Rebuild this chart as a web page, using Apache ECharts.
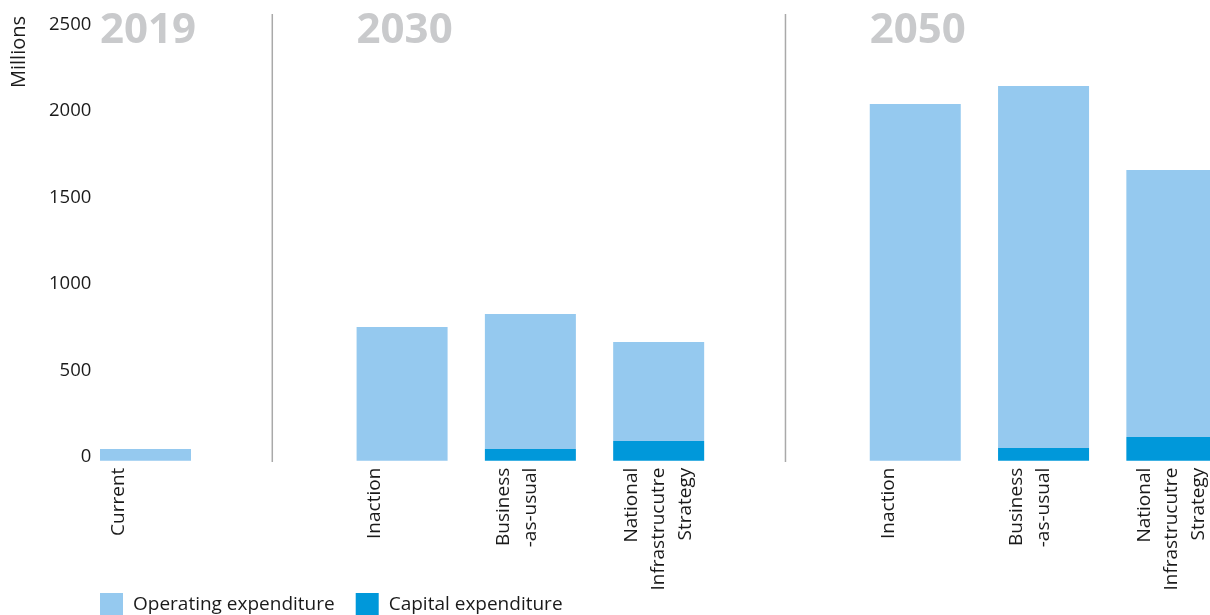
<!DOCTYPE html>
<html><head><meta charset="utf-8">
<script src="https://cdn.jsdelivr.net/npm/echarts@6/dist/echarts.min.js"></script>
<style>html,body{margin:0;padding:0;background:#fff}#c{width:1210px;height:615px}</style>
</head><body><div id="c"></div>
<script>
// ---- data ----
const categoryKeys = ['cur', 'gapA', 'inaction30', 'bau30', 'nis30', 'gapB', 'inaction50', 'bau50', 'nis50'];
const categoryLabels = ['Current\n\n', '', 'Inaction\n\n', 'Business\n-as-usual\n', 'National\nInfrastrucutre\nStrategy', '', 'Inaction\n\n', 'Business\n-as-usual\n', 'National\nInfrastrucutre\nStrategy'];
const operatingExpenditure = [68, null, 772, 779, 572, null, 2061, 2092, 1542];
const capitalExpenditure = [0, null, 0, 68, 114, null, 0, 73, 137];
const yMin = 0, yMax = 2500, yInterval = 500;
const yearLabels = ['2019', '2030', '2050'];
const yearAnchorIndex = [0, 2, 6];
const dividerIndex = [1, 5];
const seriesNames = ['Operating expenditure', 'Capital expenditure'];

const FONT = '"Open Sans", "Noto Sans", sans-serif';
const chart = echarts.init(document.getElementById('c'));
const BAR_W = 91;

chart.setOption({
  animation: false,
  textStyle: { fontFamily: FONT },
  grid: { left: 81.35, right: -26, top: 28, bottom: 154.3, containLabel: false, outerBoundsMode: 'none' },
  legend: {
    data: seriesNames,
    left: 95, top: 588,
    itemWidth: 23, itemHeight: 23, itemGap: 21,
    icon: 'rect',
    textStyle: { fontFamily: FONT, fontSize: 19, color: '#1a1a1a', padding: [0, 0, 0, 5] }
  },
  xAxis: {
    type: 'category',
    data: categoryKeys,
    axisLine: { show: false },
    axisTick: { show: false },
    axisLabel: {
      interval: 0, rotate: 90, margin: 7,
      fontFamily: FONT, fontSize: 19, color: '#1a1a1a', lineHeight: 27,
      formatter: (v, i) => categoryLabels[i]
    }
  },
  yAxis: {
    type: 'value', min: yMin, max: yMax, interval: yInterval,
    axisLine: { show: false }, axisTick: { show: false }, splitLine: { show: false },
    axisLabel: { margin: -10, fontFamily: FONT, fontSize: 18.5, color: '#1a1a1a', verticalAlign: 'bottom', lineHeight: 7, formatter: v => String(v) }
  },
  series: [
    { name: seriesNames[1], type: 'bar', stack: 'x', barWidth: BAR_W, data: capitalExpenditure, itemStyle: { color: '#0098da' } },
    { name: seriesNames[0], type: 'bar', stack: 'x', barWidth: BAR_W, data: operatingExpenditure, itemStyle: { color: '#95c9ef' } }
  ]
});

const gfx = [];
dividerIndex.forEach(i => {
  const x = chart.convertToPixel({ xAxisIndex: 0 }, i) - 1.5;
  gfx.push({ type: 'line', shape: { x1: x, y1: 14, x2: x, y2: 462 }, style: { stroke: '#a9a9a9', lineWidth: 1.5 }, silent: true });
});
yearAnchorIndex.forEach((i, k) => {
  const x = chart.convertToPixel({ xAxisIndex: 0 }, i) - BAR_W / 2;
  gfx.push({ type: 'text', x: x, y: 31, style: { text: yearLabels[k], font: 'bold 42px ' + FONT, fill: '#c9cacc', align: 'left', verticalAlign: 'middle' }, silent: true });
});
gfx.push({ type: 'text', x: 19, y: 52, rotation: Math.PI / 2, style: { text: 'Millions', font: '20px ' + FONT, fill: '#1a1a1a', align: 'center', verticalAlign: 'middle' }, silent: true });
chart.setOption({ graphic: gfx });
</script>
</body></html>
